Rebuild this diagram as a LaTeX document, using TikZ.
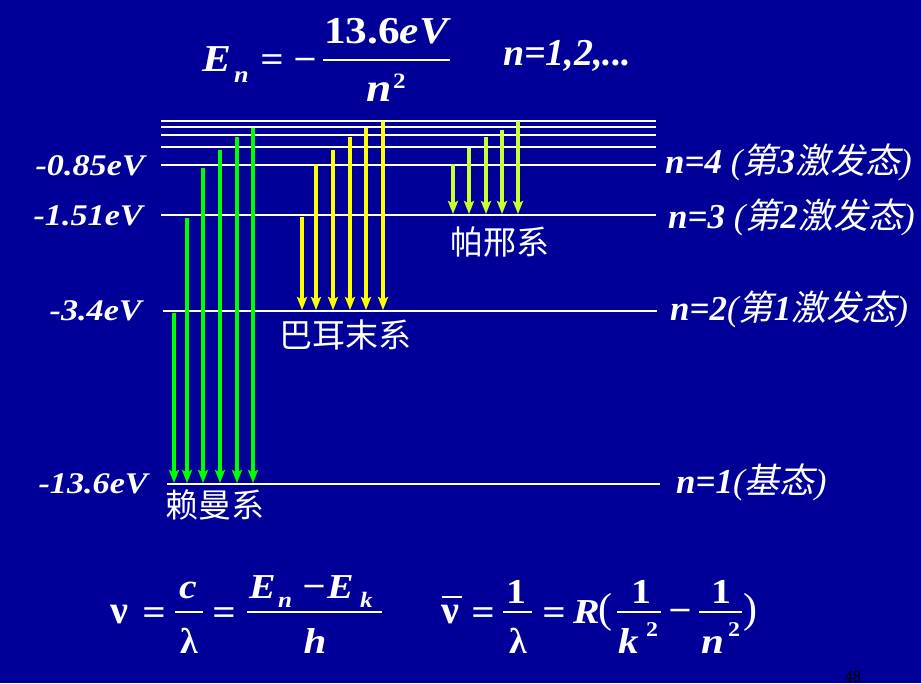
\documentclass[tikz,border=0pt]{standalone}
\usepackage{fontspec}
\setmainfont{Liberation Serif}
\newfontfamily\wide[FakeStretch=1.14]{Liberation Serif}
\newfontfamily\cjk{Noto Sans CJK SC}
\newfontfamily\cjkit[FakeSlant=0.2]{Noto Sans CJK SC}
\usetikzlibrary{arrows.meta}
\definecolor{bgblue}{RGB}{0,0,153}
\definecolor{lymangreen}{RGB}{0,255,0}
\definecolor{balmeryellow}{RGB}{255,255,0}
\definecolor{paschenlime}{RGB}{204,255,51}
\newcommand{\setfs}[1]{\fontsize{#1}{#1}\selectfont}
\newcommand{\bi}{\bfseries\itshape}
\begin{document}
\begin{tikzpicture}[x=1pt,y=-1pt,
  txt/.style={inner sep=0pt, text=white},
  levelline/.style={draw=white, line width=2.8pt},
  fracbar/.style={draw=white, line width=2pt},
  lyman/.style={draw=lymangreen, line width=4pt, -{Stealth[length=13pt,width=10pt,inset=2.5pt]}},
  balmer/.style={draw=balmeryellow, line width=4pt, -{Stealth[length=13pt,width=10pt,inset=2.5pt]}},
  paschen/.style={draw=paschenlime, line width=4pt, -{Stealth[length=13pt,width=10pt,inset=2.5pt]}},
  leftlab/.style={txt, anchor=base east, font=\setfs{30}\wide\bi},
  rightlab/.style={txt, anchor=base west, font=\setfs{35}},
  series/.style={txt, anchor=center, font=\setfs{33}\cjk},
  opsign/.style={txt, anchor=base, font=\setfs{36}\wide\bfseries}
]
% background
\fill[bgblue] (0,0) rectangle (921,683);
\useasboundingbox (0,0) rectangle (921,683);

% energy level lines
\foreach \y/\xa/\xb [count=\i] in {484/167/660, 311/163/657, 215/161/656, 165/161/656, 147/161/656, 135/161/656, 127/161/656, 121/161/656}{
  \coordinate (L\i a) at (\xa,\y);
  \coordinate (L\i b) at (\xb,\y);
  \draw[levelline] (L\i a) -- (L\i b);
}

% Lyman series
\foreach \x/\y [count=\i] in {174/313, 187/218, 203/168, 220/150, 237/137, 253/128}{
  \coordinate (ly\i s) at (\x,\y);
  \coordinate (ly\i e) at (\x,483);
  \draw[lyman] (ly\i s) -- (ly\i e);
}
% Balmer series
\foreach \x/\y [count=\i] in {302/217, 316/164, 333/150, 350/137, 366/128, 383/121}{
  \coordinate (ba\i s) at (\x,\y);
  \coordinate (ba\i e) at (\x,310);
  \draw[balmer] (ba\i s) -- (ba\i e);
}
% Paschen series
\foreach \x/\y [count=\i] in {453/164, 469/148, 486/137, 502/130, 518/121}{
  \coordinate (pa\i s) at (\x,\y);
  \coordinate (pa\i e) at (\x,214);
  \draw[paschen] (pa\i s) -- (pa\i e);
}

% left energy labels
\node[leftlab] (e4) at (145,175) {-0.85eV};
\node[leftlab] (e3) at (143,225) {-1.51eV};
\node[leftlab] (e2) at (142,320) {-3.4eV};
\node[leftlab] (e1) at (148,493) {-13.6eV};

% right level labels
\node[rightlab] (n4) at (665,173) {{\bi n=4 }{\itshape(}{\cjkit 第}{\bi 3}{\cjkit 激发态}{\itshape)}};
\node[rightlab] (n3) at (668,228) {{\bi n=3 }{\itshape(}{\cjkit 第}{\bi 2}{\cjkit 激发态}{\itshape)}};
\node[rightlab] (n2) at (670,320) {{\bi n=2}{\itshape(}{\cjkit 第}{\bi 1}{\cjkit 激发态}{\itshape)}};
\node[rightlab] (n1) at (676,493) {{\bi n=1}{\itshape(}{\cjkit 基态}{\itshape)}};

% series names
\node[series] (sly) at (215,505) {赖曼系};
\node[series] (sba) at (345,335) {巴耳末系};
\node[series] (spa) at (500,242) {帕邢系};

% top formula
\node[txt, anchor=base west, font=\setfs{38}\wide\bi] (tE) at (202,71) {E};
\node[txt, anchor=base west, font=\setfs{23}\wide\bi] (tEn) at (234,82) {n};
\node[opsign] (teq) at (272,71) {=};
\node[opsign] (tmin) at (305,71) {−};
\node[txt, anchor=base, font=\setfs{38}\wide] (tnum) at (386,43) {\bfseries 13.6\itshape eV};
\coordinate (tbarA) at (323,60);
\coordinate (tbarB) at (450,60);
\draw[fracbar] (tbarA) -- (tbarB);
\node[txt, anchor=base, font=\setfs{40}\wide\bi] (tden) at (379,101) {n};
\node[txt, anchor=base west, font=\setfs{22}\wide\bfseries] (tsq) at (393,88) {2};
\node[txt, anchor=base west, font=\setfs{38}\bi] (trange) at (503,65) {n=1,2,...};

% bottom formula 1
\node[txt, anchor=base west, font=\setfs{40}\bfseries] (bnu) at (110,623) {ν};
\node[opsign] (beq1) at (154,624) {=};
\node[txt, anchor=base, font=\setfs{35}\wide\bi] (bc) at (188,598) {c};
\coordinate (b1A) at (175,612);
\coordinate (b1B) at (203,612);
\draw[fracbar] (b1A) -- (b1B);
\node[txt, anchor=base, font=\setfs{36}\bfseries] (blam1) at (189,653) {λ};
\node[opsign] (beq2) at (224,624) {=};
\node[txt, anchor=base west, font=\setfs{35}\wide\bi] (bE1) at (249,598) {E};
\node[txt, anchor=base west, font=\setfs{22}\wide\bi] (bEn) at (278,607) {n};
\node[opsign] (bmin1) at (314,598) {−};
\node[txt, anchor=base west, font=\setfs{35}\wide\bi] (bE2) at (327,598) {E};
\node[txt, anchor=base west, font=\setfs{22}\wide\bi] (bEk) at (360,607) {k};
\coordinate (b2A) at (247,612);
\coordinate (b2B) at (382,612);
\draw[fracbar] (b2A) -- (b2B);
\node[txt, anchor=base, font=\setfs{36}\wide\bi] (bh) at (315,653) {h};

% bottom formula 2
\node[txt, anchor=base west, font=\setfs{40}\bfseries] (bnub) at (441,623) {ν};
\coordinate (bnA) at (442,597);
\coordinate (bnB) at (462,597);
\draw[fracbar] (bnA) -- (bnB);
\node[opsign] (beq3) at (483,624) {=};
\node[txt, anchor=base, font=\setfs{35}\wide\bfseries] (bone1) at (516,603) {1};
\coordinate (b3A) at (503,612);
\coordinate (b3B) at (532,612);
\draw[fracbar] (b3A) -- (b3B);
\node[txt, anchor=base, font=\setfs{36}\bfseries] (blam2) at (518,653) {λ};
\node[opsign] (beq4) at (554,624) {=};
\node[txt, anchor=base west, font=\setfs{35}\wide\bi] (bR) at (573,623) {R};
\node[txt, anchor=base west, font=\setfs{42}] (blp) at (598,622) {(};
\node[txt, anchor=base, font=\setfs{35}\wide\bfseries] (bone2) at (641,603) {1};
\coordinate (b4A) at (617,612);
\coordinate (b4B) at (661,612);
\draw[fracbar] (b4A) -- (b4B);
\node[txt, anchor=base west, font=\setfs{36}\wide\bi] (bk) at (618,653) {k};
\node[txt, anchor=base west, font=\setfs{21}\wide\bfseries] (bk2) at (646,636) {2};
\node[opsign] (bmin2) at (680,622) {−};
\node[txt, anchor=base, font=\setfs{35}\wide\bfseries] (bone3) at (721,603) {1};
\coordinate (b5A) at (699,612);
\coordinate (b5B) at (742,612);
\draw[fracbar] (b5A) -- (b5B);
\node[txt, anchor=base west, font=\setfs{36}\wide\bi] (bn) at (701,653) {n};
\node[txt, anchor=base west, font=\setfs{21}\wide\bfseries] (bn2) at (728,636) {2};
\node[txt, anchor=base west, font=\setfs{42}] (brp) at (743,622) {)};

% page number
\node[inner sep=0pt, anchor=base west, text=black, font=\setfs{17}\sffamily] (page) at (845,682) {48};
\end{tikzpicture}
\end{document}
